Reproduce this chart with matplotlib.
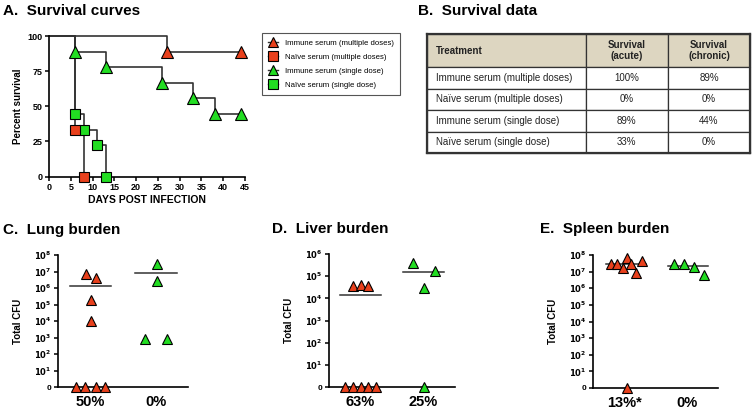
import numpy as np
import matplotlib
matplotlib.use("Agg")
import matplotlib.pyplot as plt
from matplotlib.lines import Line2D
from matplotlib.ticker import NullLocator

plt.rcParams['font.family'] = ['Liberation Sans', 'DejaVu Sans']

RED = '#E8401C'
GREEN = '#22DD22'
LINE = '#333333'

# ---- A. survival curves (Kaplan-Meier steps) ----
surv_labels = ['Immune serum (multiple doses)', 'Naïve serum (multiple doses)',
               'Immune serum (single dose)', 'Naïve serum (single dose)']
imm_multi_t = [0, 27, 44]
imm_multi_s = [100, 88.9, 88.9]
naive_multi_t = [0, 6, 8]
naive_multi_s = [100, 33.3, 0]
imm_single_t = [0, 6, 13, 26, 33, 38, 44]
imm_single_s = [100, 88.9, 77.8, 66.7, 55.6, 44.4, 44.4]
naive_single_t = [0, 6, 8, 11, 13]
naive_single_s = [100, 44.4, 33.3, 22.2, 0]

# ---- B. survival table ----
table_header = ['Treatment', 'Survival\n(acute)', 'Survival\n(chronic)']
table_treatment = surv_labels
table_acute = ['100%', '0%', '89%', '33%']
table_chronic = ['89%', '0%', '44%', '0%']

# ---- C-E. organ burdens (0 CFU drawn on the "0" line) ----
lung_multi = [7e6, 4e6, 2e5, 1e4, 0, 0, 0, 0]
lung_single = [3e7, 2.5e6, 800, 800]
lung_pct = ['50%', '0%']
liver_multi = [3.5e4, 3.8e4, 3.5e4, 0, 0, 0, 0, 0]
liver_single = [4e5, 1.7e5, 2.8e4, 0]
liver_pct = ['63%', '25%']
spleen_multi = [3e7, 3e7, 1.7e7, 7e7, 2.8e7, 8e6, 4.5e7, 0]
spleen_single = [3e7, 3e7, 2e7, 6.3e6]
spleen_pct = ['13%*', '0%']

# layout: horizontal scatter offsets for the dot plots
lung_off = ([-0.07, 0.08, 0.01, 0.01, -0.23, -0.08, 0.08, 0.23], [0.02, 0.02, -0.16, 0.18])
liver_off = ([-0.12, 0.0, 0.12, -0.24, -0.12, 0.0, 0.12, 0.24], [-0.17, 0.18, 0.0, 0.0])
spleen_off = ([-0.22, -0.11, -0.02, 0.05, 0.1, 0.19, 0.29, 0.05], [-0.2, -0.04, 0.12, 0.28])

W, H = 752, 413
fig = plt.figure(figsize=(W / 100, H / 100), dpi=100)


def fax(x0, y0, x1, y1):
    return fig.add_axes([x0 / W, 1 - y1 / H, (x1 - x0) / W, (y1 - y0) / H])


def style(ax):
    for s in ['top', 'right']:
        ax.spines[s].set_visible(False)
    for s in ['left', 'bottom']:
        ax.spines[s].set_linewidth(1.2)
    ax.tick_params(width=1.1, length=3, labelsize=6.5, pad=1.5)
    for lab in ax.get_xticklabels() + ax.get_yticklabels():
        lab.set_fontweight('bold')


def title(x, y, s):
    fig.text(x / W, 1 - y / H, s, fontsize=11, fontweight='bold', va='center', ha='left')


# ---------- A ----------
ax = fax(49, 36, 245, 176.5)
curves = [(imm_multi_t, imm_multi_s, '^', RED, 8),
          (imm_single_t, imm_single_s, '^', GREEN, 8),
          (naive_single_t, naive_single_s, 's', GREEN, 7),
          (naive_multi_t, naive_multi_s, 's', RED, 7)]
for t, s, m, c, ms in curves:
    ax.step(t, s, where='post', color=LINE, lw=1.2, clip_on=False, zorder=2)
    ax.plot(t[1:], s[1:], ls='none', marker=m, ms=ms, mfc=c, mec='black', mew=0.8,
            clip_on=False, zorder=3)
ax.set_xlim(0, 45)
ax.set_ylim(0, 100)
ax.set_xticks(np.arange(0, 46, 5))
ax.set_yticks([0, 25, 50, 75, 100])
ax.set_xlabel('DAYS POST INFECTION', fontsize=7.5, fontweight='bold', labelpad=2)
ax.set_ylabel('Percent survival', fontsize=7, fontweight='bold', labelpad=3)
style(ax)
title(3, 11, 'A.  Survival curves')

handles = [Line2D([], [], color=LINE, lw=1, marker='^', ms=7, mfc=RED, mec='black', mew=0.8),
           Line2D([], [], color=LINE, lw=1, marker='s', ms=6.5, mfc=RED, mec='black', mew=0.8),
           Line2D([], [], color=LINE, lw=1, marker='^', ms=7, mfc=GREEN, mec='black', mew=0.8),
           Line2D([], [], color=LINE, lw=1, marker='s', ms=6.5, mfc=GREEN, mec='black', mew=0.8)]
leg = fig.legend(handles, surv_labels, loc='upper left', bbox_to_anchor=(262 / W, 1 - 33 / H),
                 fontsize=5.6, fancybox=False, edgecolor='#555555', handlelength=1.2,
                 handletextpad=0.9, borderpad=0.8, labelspacing=0.85, framealpha=1,
                 borderaxespad=0)
leg.get_frame().set_linewidth(0.8)

# ---------- B ----------
title(418, 11, 'B.  Survival data')
axt = fax(427, 34, 750, 153)
axt.set_xticks([])
axt.set_yticks([])
for s in axt.spines.values():
    s.set_linewidth(1.6)
    s.set_color('#333333')
rows = [list(r) for r in zip(table_treatment, table_acute, table_chronic)]
tbl = axt.table(cellText=rows, colLabels=table_header, colWidths=[0.492, 0.254, 0.254],
                cellLoc='center', bbox=[0, 0, 1, 1])
tbl.auto_set_font_size(False)
tbl.set_fontsize(7)
for (r, c), cell in tbl.get_celld().items():
    cell.set_linewidth(0.9)
    cell.set_edgecolor('#333333')
    cell.get_text().set_color('#222222')
    cell.set_height(33 if r == 0 else 21.5)
    if r == 0:
        cell.set_facecolor('#DDD6C1')
        cell.get_text().set_fontweight('bold')
    if c == 0:
        cell.PAD = 0.055
        cell.get_text().set_ha('left')

# ---------- C-E ----------
ylabels = ['0', '$\\mathbf{10^{1}}$', '$\\mathbf{10^{2}}$', '$\\mathbf{10^{3}}$',
           '$\\mathbf{10^{4}}$', '$\\mathbf{10^{5}}$', '$\\mathbf{10^{6}}$',
           '$\\mathbf{10^{7}}$', '$\\mathbf{10^{8}}$']


def burden(box, multi, single, offs, pct, top, ttl, tpos):
    ax = fax(*box)
    for i, (vals, off, col) in enumerate([(multi, offs[0], RED), (single, offs[1], GREEN)]):
        v = np.array(vals, dtype=float)
        shown = np.where(v > 0, v, 1.0)
        ax.plot(i + np.array(off), shown, ls='none', marker='^', ms=7.5, mfc=col,
                mec='black', mew=0.8, clip_on=False, zorder=3)
        m = v.mean()
        cx = i + np.mean(off) * 0.5
        ax.plot([cx - 0.32, cx + 0.32], [m, m], color=LINE, lw=1.1, zorder=2)
    ax.set_yscale('log')
    ax.set_ylim(1, 10 ** top)
    ax.set_xlim(-0.5, 1.5)
    ax.set_yticks([10 ** k for k in range(top + 1)])
    ax.set_yticklabels(ylabels[:top + 1])
    ax.yaxis.set_minor_locator(NullLocator())
    ax.set_xticks([0, 1])
    ax.set_xticklabels(pct)
    style(ax)
    ax.tick_params(axis='y', labelsize=6)
    ax.tick_params(axis='x', length=0, labelsize=10.5, pad=6)
    for lab in ax.get_xticklabels():
        lab.set_fontweight('bold')
    ax.set_ylabel('Total CFU', fontsize=7, fontweight='bold', labelpad=8)
    title(tpos[0], tpos[1], ttl)


burden((58, 255, 188, 387), lung_multi, lung_single, lung_off, lung_pct, 8,
       'C.  Lung burden', (3, 230))
burden((329, 254, 455, 387), liver_multi, liver_single, liver_off, liver_pct, 6,
       'D.  Liver burden', (272, 229))
burden((593, 255, 718, 388), spleen_multi, spleen_single, spleen_off, spleen_pct, 8,
       'E.  Spleen burden', (540, 229))

fig.savefig('out.png', dpi=100)
